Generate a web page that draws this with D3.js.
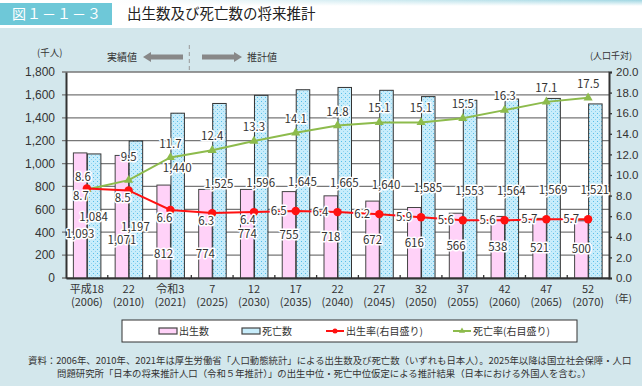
<!DOCTYPE html>
<html lang="ja">
<head>
<meta charset="UTF-8">
<title>出生数及び死亡数の将来推計</title>
<script src="https://d3js.org/d3.v7.min.js"></script>
<style>
  body { margin: 0; background: #fff; }
  svg { display: block; font-family: "Noto Sans CJK JP", "Noto Sans", sans-serif; }
</style>
</head>
<body>
<svg id="chart" width="642" height="386"></svg>
<script>
// 区分（和暦）と西暦
var eras  = ["平成18", "22", "令和3", "7", "12", "17", "22", "27", "32", "37", "42", "47", "52"];
var years = ["2006", "2010", "2021", "2025", "2030", "2035", "2040", "2045", "2050", "2055", "2060", "2065", "2070"];
// 出生数・死亡数（千人）
var births = [1093, 1071, 812, 774, 774, 755, 718, 672, 616, 566, 538, 521, 500];
var deaths = [1084, 1197, 1440, 1525, 1596, 1645, 1665, 1640, 1585, 1553, 1564, 1569, 1521];
// 出生率・死亡率（人口千対）
var birthRate = [8.7, 8.5, 6.6, 6.3, 6.4, 6.5, 6.4, 6.2, 5.9, 5.6, 5.6, 5.7, 5.7];
var deathRate = [8.6, 9.5, 11.7, 12.4, 13.3, 14.1, 14.8, 15.1, 15.1, 15.5, 16.3, 17.1, 17.5];
// 目盛り
var leftTicks  = [0, 200, 400, 600, 800, 1000, 1200, 1400, 1600, 1800];
var rightTicks = [0, 2, 4, 6, 8, 10, 12, 14, 16, 18, 20];
var actualCount = 3; // 実績値の区分数

var svg = d3.select("#chart");
var idx = d3.range(eras.length);

// 配置
var pLeft = 66, pRight = 609, pTop = 72, pBottom = 278;
var x  = d3.scaleBand().domain(idx).range([pLeft, pRight]);
var yL = d3.scaleLinear().domain([0, 1800]).range([pBottom, pTop]);
var yR = d3.scaleLinear().domain([0, 20]).range([pBottom, pTop]);
var bw = 13.5;
var cx = function(i) { return x(i) + x.bandwidth() / 2; };

var textCol = "#333";

// 背景
svg.append("rect").attr("width", 642).attr("height", 386).attr("fill", "#fff");
svg.append("rect").attr("y", 28).attr("width", 642).attr("height", 358).attr("fill", "#d3e7ec");

var defs = svg.append("defs");
var grad = defs.append("linearGradient").attr("id", "topGrad");
grad.append("stop").attr("offset", "0%").attr("stop-color", "#fff");
grad.append("stop").attr("offset", "100%").attr("stop-color", "#9fd6e2");
var fade = defs.append("linearGradient").attr("id", "fadeDown").attr("x1", 0).attr("y1", 0).attr("x2", 0).attr("y2", 1);
fade.append("stop").attr("offset", "0%").attr("stop-color", "#fff").attr("stop-opacity", 0);
fade.append("stop").attr("offset", "100%").attr("stop-color", "#fff").attr("stop-opacity", 1);

// 点々模様（死亡数）
var pat = defs.append("pattern").attr("id", "dots").attr("patternUnits", "userSpaceOnUse")
  .attr("width", 4).attr("height", 4);
pat.append("rect").attr("width", 4).attr("height", 4).attr("fill", "#c8edfb");
pat.append("rect").attr("x", 1).attr("y", 1).attr("width", 1).attr("height", 1).attr("fill", "#56bde9");
pat.append("rect").attr("x", 3).attr("y", 3).attr("width", 1).attr("height", 1).attr("fill", "#8fd3f0");

// タイトル帯
svg.append("rect").attr("x", 112).attr("y", 0).attr("width", 530).attr("height", 6).attr("fill", "url(#topGrad)");
svg.append("rect").attr("x", 112).attr("y", 0).attr("width", 530).attr("height", 6).attr("fill", "url(#fadeDown)");
svg.append("rect").attr("x", 0).attr("y", 3).attr("width", 112).attr("height", 22).attr("fill", "#6ec8d8");
svg.append("text").attr("x", 12).attr("y", 19).attr("fill", "#fff").attr("font-size", 14)
  .attr("letter-spacing", 1).text("図１－１－３");
svg.append("text").attr("x", 127).attr("y", 19).attr("fill", "#222").attr("font-size", 14.5)
  .text("出生数及び死亡数の将来推計");

// 単位
svg.append("text").attr("x", 37).attr("y", 56).attr("font-size", 9.5).attr("fill", textCol).text("(千人)");
svg.append("text").attr("x", 590).attr("y", 59).attr("font-size", 9).attr("fill", textCol).text("(人口千対)");
svg.append("text").attr("x", 615).attr("y", 302).attr("font-size", 10).attr("fill", textCol).text("(年)");

// 実績値・推計値の矢印
var sep = x(actualCount) - 2;
svg.append("line").attr("x1", sep).attr("x2", sep).attr("y1", 45).attr("y2", pBottom + 2)
  .attr("stroke", "#999").attr("stroke-width", 1).attr("stroke-dasharray", "4,3");
var ay = 57;
svg.append("path").attr("fill", "#888")
  .attr("d", "M143," + ay + "L151," + (ay - 5) + "V" + (ay - 2.5) + "H183V" + (ay + 2.5) + "H151V" + (ay + 5) + "Z");
svg.append("path").attr("fill", "#888")
  .attr("d", "M242," + ay + "L234," + (ay - 5) + "V" + (ay - 2.5) + "H202V" + (ay + 2.5) + "H234V" + (ay + 5) + "Z");
svg.append("text").attr("x", 137).attr("y", ay + 4).attr("text-anchor", "end").attr("font-size", 10)
  .attr("fill", textCol).text("実績値");
svg.append("text").attr("x", 247).attr("y", ay + 4).attr("font-size", 10)
  .attr("fill", textCol).text("推計値");

// 描画領域
svg.append("rect").attr("x", pLeft).attr("y", pTop).attr("width", pRight - pLeft).attr("height", pBottom - pTop).attr("fill", "#fff");

svg.append("g").selectAll("line").data(leftTicks).join("line")
  .attr("x1", pLeft - 4).attr("x2", pRight).attr("y1", function(d) { return yL(d); }).attr("y2", function(d) { return yL(d); })
  .attr("stroke", "#777").attr("stroke-width", 1.3);

// 棒
svg.append("g").selectAll("rect").data(idx).join("rect")
  .attr("x", function(i) { return cx(i) - bw; }).attr("width", bw)
  .attr("y", function(i) { return yL(births[i]); }).attr("height", function(i) { return yL(0) - yL(births[i]); })
  .attr("fill", "#ffd2f8").attr("stroke", "#444").attr("stroke-width", 1);
svg.append("g").selectAll("rect").data(idx).join("rect")
  .attr("x", function(i) { return cx(i) + 0.5; }).attr("width", bw)
  .attr("y", function(i) { return yL(deaths[i]); }).attr("height", function(i) { return yL(0) - yL(deaths[i]); })
  .attr("fill", "url(#dots)").attr("stroke", "#333").attr("stroke-width", 1);

// 軸
var gL = svg.append("g").attr("transform", "translate(" + pLeft + ",0)")
  .call(d3.axisLeft(yL).tickValues(leftTicks).tickSize(0).tickPadding(11).tickFormat(d3.format(",")));
var gR = svg.append("g").attr("transform", "translate(" + pRight + ",0)")
  .call(d3.axisRight(yR).tickValues(rightTicks).tickSize(3).tickPadding(4).tickFormat(d3.format(".1f")));
var gB = svg.append("g").attr("transform", "translate(0," + pBottom + ")")
  .call(d3.axisBottom(x).tickSize(0).tickFormat(""));
[gL, gR, gB].forEach(function(g) {
  g.select(".domain").attr("stroke", "#333").attr("stroke-width", 2);
  g.selectAll(".tick line").attr("stroke", "#333").attr("stroke-width", 1.3);
  g.selectAll(".tick text").attr("font-size", 11.5).attr("fill", textCol).attr("font-family", null);
});
gL.selectAll(".tick text").attr("font-size", 12);
// 区分の境目の小さな目盛り
svg.append("g").selectAll("line").data(idx.slice(1)).join("line")
  .attr("x1", function(i) { return x(i); }).attr("x2", function(i) { return x(i); })
  .attr("y1", pBottom).attr("y2", pBottom - 3).attr("stroke", "#333").attr("stroke-width", 1.3);

// 横軸ラベル（2段）
var xg = svg.append("g").attr("text-anchor", "middle").attr("font-size", 11).attr("fill", textCol);
xg.selectAll("text.era").data(idx).join("text").attr("class", "era")
  .attr("x", function(i) { return cx(i); }).attr("y", 293).text(function(i) { return eras[i]; });
xg.selectAll("text.year").data(idx).join("text").attr("class", "year")
  .attr("x", function(i) { return cx(i); }).attr("y", 306).text(function(i) { return "(" + years[i] + ")"; });

// 折れ線
var lineR = d3.line().x(function(i) { return cx(i); });
svg.append("path").datum(idx)
  .attr("d", lineR.y(function(i) { return yR(deathRate[i]); }))
  .attr("fill", "none").attr("stroke", "#8dbb4c").attr("stroke-width", 2);
svg.append("g").selectAll("path").data(idx).join("path")
  .attr("d", d3.symbol(d3.symbolTriangle, 36))
  .attr("transform", function(i) { return "translate(" + cx(i) + "," + yR(deathRate[i]) + ")"; })
  .attr("fill", "#8dbb4c");
svg.append("path").datum(idx)
  .attr("d", lineR.y(function(i) { return yR(birthRate[i]); }))
  .attr("fill", "none").attr("stroke", "#ff1111").attr("stroke-width", 2);
svg.append("g").selectAll("circle").data(idx).join("circle")
  .attr("cx", function(i) { return cx(i); }).attr("cy", function(i) { return yR(birthRate[i]); })
  .attr("r", 4.2).attr("fill", "#ff1111");

// 数値ラベル
function label(g, tx, ty, s) {
  g.append("text").attr("x", tx).attr("y", ty).attr("dy", "0.35em").attr("text-anchor", "middle")
    .attr("font-size", 11.5).attr("fill", textCol)
    .attr("stroke", "#fff").attr("stroke-width", 3).attr("stroke-linejoin", "round")
    .attr("paint-order", "stroke").text(s);
}
var fmt = d3.format(",");
var lab = svg.append("g");
// 出生数：棒の中ほど（前の4区分は折れ線を避けて下寄せ）
var birthLow = [385, 330, 210, 210];
idx.forEach(function(i) {
  var lv = i < birthLow.length ? birthLow[i] : births[i] / 2;
  label(lab, cx(i) - bw / 2, yL(lv), fmt(births[i]));
});
// 死亡数
var deathLow = [535, 445, 960];
idx.forEach(function(i) {
  var ty = i < deathLow.length ? yL(deathLow[i]) : yR(birthRate[i]) - 29;
  label(lab, cx(i) + bw / 2, ty, fmt(deaths[i]));
});
// 出生率
idx.forEach(function(i) {
  var px = cx(i), py = yR(birthRate[i]);
  if (i < 5) label(lab, px - 6, py + 8, birthRate[i].toFixed(1));
  else label(lab, px - 17, py, birthRate[i].toFixed(1));
});
// 死亡率
idx.forEach(function(i) {
  var px = cx(i), py = yR(deathRate[i]);
  var dy = i === 1 ? -23 : (i === 0 ? -12 : -14);
  label(lab, i === 0 ? px - 4 : px, py + dy, deathRate[i].toFixed(1));
});

// 凡例
var lg = svg.append("g");
lg.append("rect").attr("x", 122).attr("y", 320).attr("width", 455).attr("height", 22)
  .attr("fill", "#fff").attr("stroke", "#333").attr("stroke-width", 1);
var ly = 331;
var legendItems = [
  { x: 159, type: "bar", fill: "#ffd2f8", text: "出生数" },
  { x: 242, type: "bar", fill: "#c8edfb", text: "死亡数" },
  { x: 326, type: "line", color: "#ff1111", mark: "circle", text: "出生率(右目盛り)" },
  { x: 453, type: "line", color: "#8dbb4c", mark: "triangle", text: "死亡率(右目盛り)" }
];
legendItems.forEach(function(d) {
  if (d.type === "bar") {
    lg.append("rect").attr("x", d.x).attr("y", ly - 3).attr("width", 18).attr("height", 6)
      .attr("fill", d.fill).attr("stroke", "#444").attr("stroke-width", 1.2);
  } else {
    lg.append("line").attr("x1", d.x).attr("x2", d.x + 18).attr("y1", ly).attr("y2", ly)
      .attr("stroke", d.color).attr("stroke-width", 2);
    if (d.mark === "circle") {
      lg.append("circle").attr("cx", d.x + 9).attr("cy", ly).attr("r", 2.5).attr("fill", d.color);
    } else {
      lg.append("path").attr("d", d3.symbol(d3.symbolTriangle, 16))
        .attr("transform", "translate(" + (d.x + 9) + "," + ly + ")").attr("fill", d.color);
    }
  }
  lg.append("text").attr("x", d.x + 20).attr("y", ly).attr("dy", "0.35em")
    .attr("font-size", 10).attr("fill", textCol).text(d.text);
});

// 資料
svg.append("text").attr("x", 28).attr("y", 364).attr("font-size", 9.4).attr("fill", textCol)
  .text("資料：2006年、2010年、2021年は厚生労働省「人口動態統計」による出生数及び死亡数（いずれも日本人）。2025年以降は国立社会保障・人口");
svg.append("text").attr("x", 57).attr("y", 377).attr("font-size", 9.4).attr("fill", textCol)
  .text("問題研究所「日本の将来推計人口（令和５年推計）」の出生中位・死亡中位仮定による推計結果（日本における外国人を含む。）");
</script>
</body>
</html>
